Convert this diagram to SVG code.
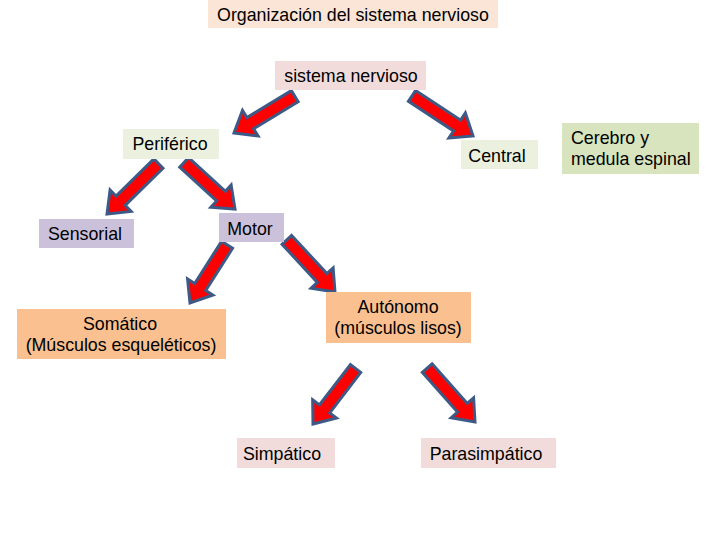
<svg xmlns="http://www.w3.org/2000/svg" width="720" height="540" viewBox="0 0 720 540">
<style>
text{font-family:"Liberation Sans",Arial,sans-serif;font-size:17.8px;fill:#000;text-anchor:middle}
.l{text-anchor:start}
.arr{fill:#ff0000;stroke:#3d5a87;stroke-width:3;stroke-linejoin:miter}
</style>
<defs>
<path id="a" d="M0,-6.5 L-20,-6.5 L-20,-15 L0,0 L-20,15 L-20,6.5 Z"/>
</defs>
<rect width="720" height="540" fill="#fff"/>
<g id="connectors">
<path class="arr" transform="translate(234,133) rotate(148.8)" d="M-71,-6.5 L-19,-6.5 L-19,-15 L0,0 L-19,15 L-19,6.5 L-71,6.5 Z"/>
<path class="arr" transform="translate(473,136) rotate(33.3)" d="M-73,-6.5 L-19,-6.5 L-19,-15 L0,0 L-19,15 L-19,6.5 L-73,6.5 Z"/>
<path class="arr" transform="translate(107,214) rotate(135.6)" d="M-72,-6.5 L-19,-6.5 L-19,-15 L0,0 L-19,15 L-19,6.5 L-72,6.5 Z"/>
<path class="arr" transform="translate(235,209) rotate(42.5)" d="M-69,-6.5 L-19,-6.5 L-19,-15 L0,0 L-19,15 L-19,6.5 L-69,6.5 Z"/>
<path class="arr" transform="translate(190,303) rotate(122.5)" d="M-69,-6.5 L-19,-6.5 L-19,-15 L0,0 L-19,15 L-19,6.5 L-69,6.5 Z"/>
<path class="arr" transform="translate(335,292) rotate(47.3)" d="M-71,-6.5 L-19,-6.5 L-19,-15 L0,0 L-19,15 L-19,6.5 L-71,6.5 Z"/>
<path class="arr" transform="translate(313,424) rotate(127.5)" d="M-70,-6.5 L-19,-6.5 L-19,-15 L0,0 L-19,15 L-19,6.5 L-70,6.5 Z"/>
<path class="arr" transform="translate(475,422) rotate(48.4)" d="M-72,-6.5 L-19,-6.5 L-19,-15 L0,0 L-19,15 L-19,6.5 L-72,6.5 Z"/>
</g>
<g id="title"><rect x="208" y="0" width="290" height="28" fill="#fbe5d6"/><text x="353" y="21">Organización del sistema nervioso</text></g>
<g id="sistema"><rect x="275" y="61" width="151" height="29" fill="#f2dcdb"/><text x="351" y="82">sistema nervioso</text></g>
<g id="periferico"><rect x="123" y="129" width="96" height="30" fill="#ebf1de"/><text x="170" y="150">Periférico</text></g>
<g id="central"><rect x="461" y="140" width="77" height="29" fill="#ebf1de"/><text x="497" y="162">Central</text></g>
<g id="cerebro"><rect x="562" y="123" width="137" height="51" fill="#d7e4bd"/><text class="l" x="571" y="144">Cerebro y</text><text class="l" x="571" y="165">medula espinal</text></g>
<g id="sensorial"><rect x="39" y="219" width="95" height="29" fill="#ccc1da"/><text x="85" y="240">Sensorial</text></g>
<g id="motor"><rect x="219" y="213" width="65" height="29" fill="#ccc1da"/><text x="250" y="235">Motor</text></g>
<g id="somatico"><rect x="17" y="309" width="209" height="50" fill="#fac090"/><text x="120" y="330">Somático</text><text x="121" y="351">(Músculos esqueléticos)</text></g>
<g id="autonomo"><rect x="326" y="292" width="145" height="51" fill="#fac090"/><text x="398" y="313">Autónomo</text><text x="398" y="334">(músculos lisos)</text></g>
<g id="simpatico"><rect x="237" y="438" width="98" height="30" fill="#f2dcdb"/><text x="282" y="460">Simpático</text></g>
<g id="parasimpatico"><rect x="421" y="438" width="135" height="30" fill="#f2dcdb"/><text x="486" y="460">Parasimpático</text></g>
</svg>
